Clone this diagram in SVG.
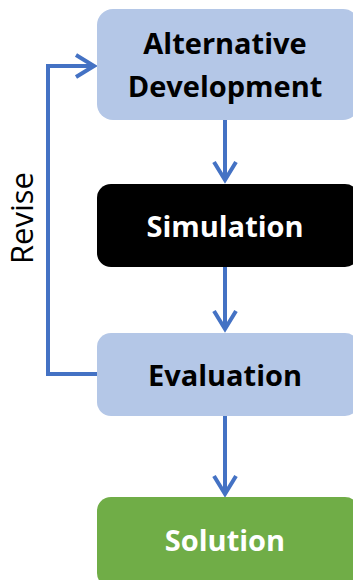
<svg xmlns="http://www.w3.org/2000/svg" width="353" height="580" viewBox="0 0 353 580">
<style>
.box-blue{fill:#B4C7E7}
.lbl{font-family:"Open Sans","Liberation Sans",sans-serif;font-weight:bold;font-size:29px;text-anchor:middle}
.conn{fill:none;stroke:#4472C4;stroke-width:4}
.head{fill:none;stroke:#4472C4;stroke-width:4;stroke-linejoin:miter;stroke-linecap:butt}
</style>
<rect width="353" height="580" fill="#fff"/>
<g id="connectors">
<line class="conn" x1="225" y1="120" x2="225" y2="180"/>
<polyline class="head" points="214,162 225,180 236,162"/>
<line class="conn" x1="225" y1="267" x2="225" y2="329"/>
<polyline class="head" points="214,311 225,329 236,311"/>
<line class="conn" x1="225" y1="416" x2="225" y2="494"/>
<polyline class="head" points="214,476 225,494 236,476"/>
<polyline class="conn" points="97,374 48,374 48,66 93,66"/>
<polyline class="head" points="76,55 94,66 76,77"/>
<text x="33" y="218" transform="rotate(-90 33 218)" font-family="'Open Sans','Liberation Sans',sans-serif" font-size="31" text-anchor="middle" fill="#000">Revise</text>
</g>
<g id="alternative-development">
<rect class="box-blue" x="97" y="9" width="262" height="111" rx="16"/>
<text class="lbl" x="225" y="54" fill="#000">Alternative</text>
<text class="lbl" x="225" y="97" fill="#000">Development</text>
</g>
<g id="simulation">
<rect x="97" y="184" width="262" height="83" rx="14" fill="#000"/>
<text class="lbl" x="225" y="237" fill="#fff">Simulation</text>
</g>
<g id="evaluation">
<rect class="box-blue" x="97" y="333" width="262" height="83" rx="14"/>
<text class="lbl" x="225" y="386" fill="#000">Evaluation</text>
</g>
<g id="solution">
<rect x="97" y="497" width="262" height="90" rx="14" fill="#70AD47"/>
<text class="lbl" x="225" y="551" fill="#fff">Solution</text>
</g>
</svg>
